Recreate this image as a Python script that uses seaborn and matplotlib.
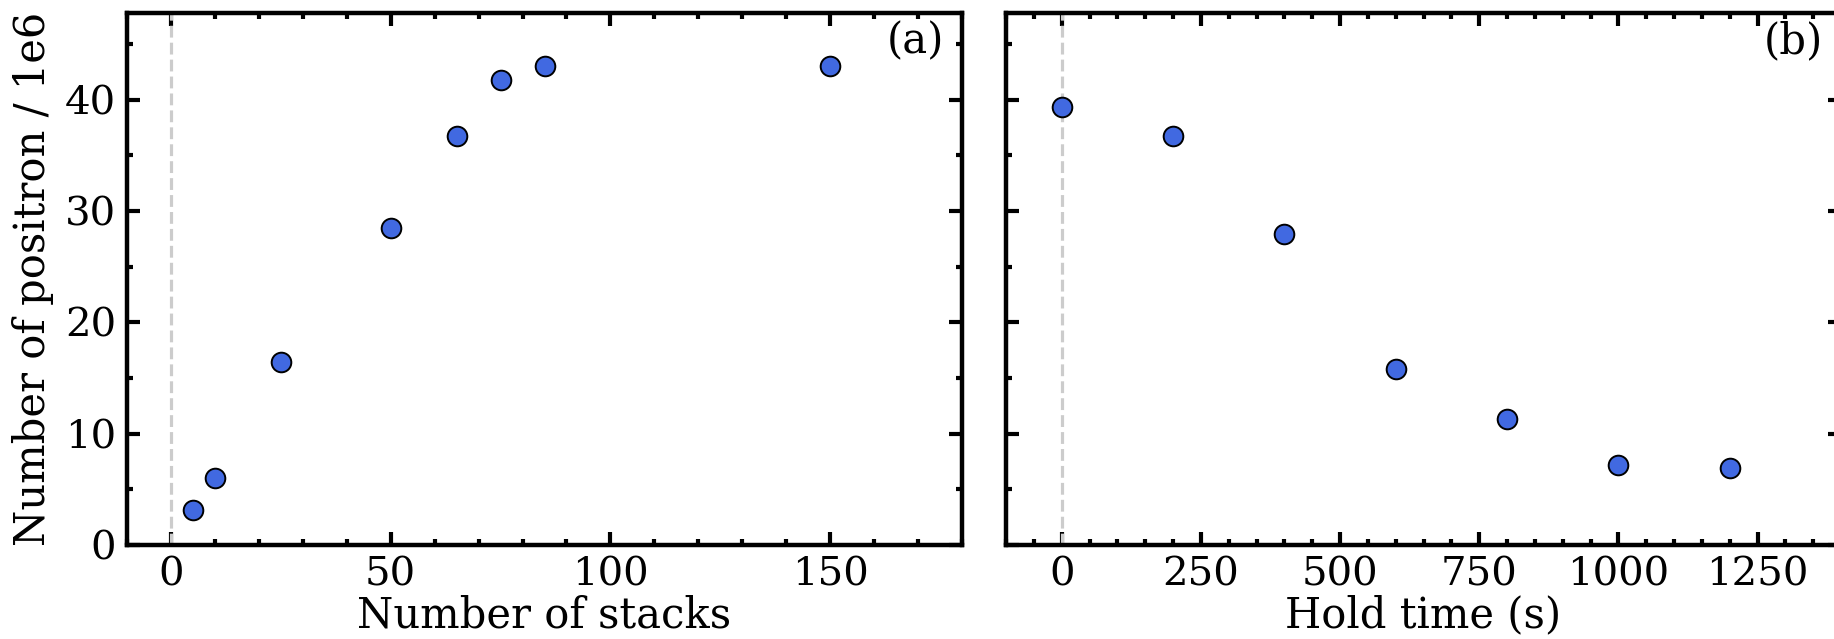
import numpy as np
import pandas as pd
import matplotlib
matplotlib.use("Agg")
import matplotlib.pyplot as plt
from matplotlib.ticker import MultipleLocator
import seaborn as sns

# Data
stacks = [5, 10, 25, 50, 65, 75, 85, 150]
positrons_stacks = [3.1, 6.0, 16.4, 28.5, 36.7, 41.8, 43.0, 43.0]
hold_time = [0, 200, 400, 600, 800, 1000, 1200]
positrons_hold = [39.3, 36.7, 27.9, 15.8, 11.3, 7.2, 6.9]

sns.set_style("ticks")
plt.rcParams["font.family"] = ["DejaVu Serif"]
plt.rcParams["mathtext.fontset"] = "dejavuserif"
plt.rcParams["text.color"] = "black"
plt.rcParams["axes.labelcolor"] = "black"
plt.rcParams["xtick.color"] = "black"
plt.rcParams["ytick.color"] = "black"
plt.rcParams["axes.edgecolor"] = "black"

FS_LAB = 30
FS_TICK = 29
W, H = 1834, 639
fig = plt.figure(figsize=(W / 100, H / 100), dpi=100)
axw = 835 / W
bottom = 1 - 545 / H
height = (545 - 12.7) / H
ax1 = fig.add_axes([127 / W, bottom, axw, height])
ax2 = fig.add_axes([1006 / W, bottom, axw, height], sharey=ax1)

df1 = pd.DataFrame({"x": stacks, "y": positrons_stacks})
df2 = pd.DataFrame({"x": hold_time, "y": positrons_hold})

for ax, df in [(ax1, df1), (ax2, df2)]:
    ax.axvline(0, color="#cccccc", ls="--", lw=2.3, zorder=1)
    sns.scatterplot(data=df, x="x", y="y", ax=ax, s=200, color="royalblue",
                    edgecolor="black", linewidth=1.4, zorder=3)
    for sp in ax.spines.values():
        sp.set_linewidth(3.2)
        sp.set_color("black")
    ax.tick_params(which="both", direction="in", top=True, right=True,
                   labelsize=FS_TICK, width=3, pad=8, colors="black")
    ax.tick_params(which="major", length=9.5)
    ax.tick_params(which="minor", length=4.5)
    ax.yaxis.set_major_locator(MultipleLocator(10))
    ax.yaxis.set_minor_locator(MultipleLocator(5))

ax1.set_xlim(-10, 180)
ax1.set_ylim(0, 47.8)
ax1.xaxis.set_major_locator(MultipleLocator(50))
ax1.xaxis.set_minor_locator(MultipleLocator(10))
ax1.set_xlabel("Number of stacks", fontsize=FS_LAB, labelpad=1)
ax1.set_ylabel("Number of positron / 1e6", fontsize=FS_LAB, labelpad=8)
ax1.text(0.978, 0.985, "(a)", transform=ax1.transAxes, ha="right", va="top", fontsize=FS_LAB)

ax2.set_xlim(-100, 1400)
ax2.xaxis.set_major_locator(MultipleLocator(250))
ax2.xaxis.set_minor_locator(MultipleLocator(50))
ax2.set_xlabel("Hold time (s)", fontsize=FS_LAB, labelpad=1)
ax2.set_ylabel("")
ax2.tick_params(labelleft=False)
ax2.text(0.978, 0.985, "(b)", transform=ax2.transAxes, ha="right", va="top", fontsize=FS_LAB)

fig.savefig("out.png", dpi=100)
